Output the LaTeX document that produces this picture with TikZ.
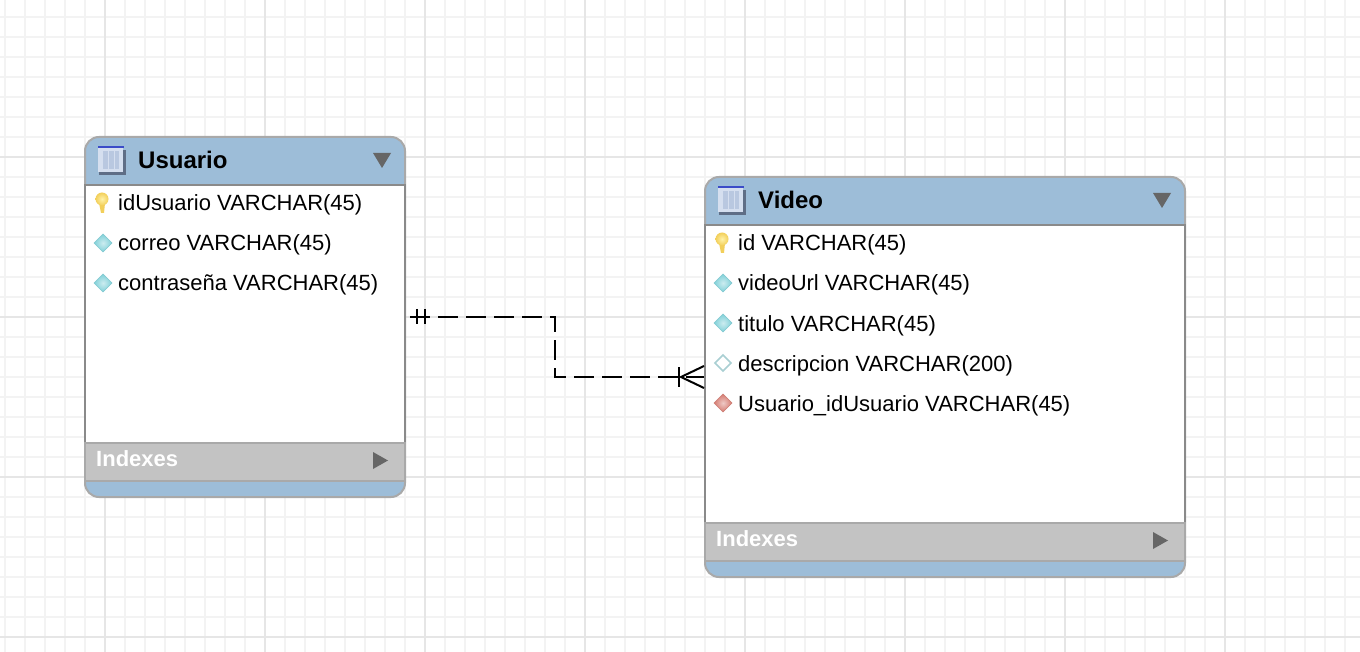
\documentclass[tikz,border=0pt]{standalone}
\usepackage{fontspec}
\setmainfont{Liberation Sans}
\definecolor{headblue}{HTML}{9DBDD8}
\definecolor{frameline}{HTML}{A9A9A9}
\definecolor{bodyline}{HTML}{8A8A8A}
\definecolor{indexgrey}{HTML}{C3C3C3}
\definecolor{markgrey}{HTML}{666666}
\definecolor{gridminor}{HTML}{F3F3F3}
\definecolor{gridmajor}{HTML}{E6E6E6}
\definecolor{keygold}{HTML}{F2CF5A}
\definecolor{keylight}{HTML}{FFF2A8}
\definecolor{colcyan}{HTML}{7FD0D8}
\definecolor{colpale}{HTML}{A9CFD2}
\definecolor{colred}{HTML}{D57A70}
\definecolor{iconblue}{HTML}{3B4CC8}
\definecolor{iconshade}{HTML}{5F6E86}
\definecolor{iconfill}{HTML}{D5DFEF}
\definecolor{iconcol}{HTML}{B9C8E0}
\tikzset{
	tablebox/.style={draw=frameline, line width=2pt, fill=headblue, rounded corners=14pt, minimum width=320pt, inner sep=0pt},
	bodybox/.style={draw=bodyline, line width=1.6pt, fill=white, minimum width=320pt, inner sep=0pt},
	indexbox/.style={draw=frameline, line width=2pt, fill=indexgrey, minimum width=320pt, minimum height=38pt, inner sep=0pt},
	headtext/.style={anchor=west, inner sep=0pt, font=\fontsize{24}{28}\selectfont\bfseries},
	indextext/.style={anchor=west, inner sep=0pt, text=white, font=\fontsize{22}{26}\selectfont\bfseries},
	coltext/.style={anchor=west, inner sep=0pt, text height=21pt, text depth=5pt, font=\fontsize{22}{26}\selectfont},
	relline/.style={line width=2pt, black},
	coldiamond/.pic={
		\shade[inner color=#1!40!white, outer color=#1, draw=#1!90!gray, line width=.6pt]
			(-9,0) -- (0,-9) -- (9,0) -- (0,9) -- cycle;
	},
	emptydiamond/.pic={
		\fill[white, draw=#1, line width=1.6pt]
			(-8,0) -- (0,-8) -- (8,0) -- (0,8) -- cycle;
	},
	keymark/.pic={
		\fill[keygold] (-3,0) -- (3,0) -- (2,10) -- (-1,10) -- cycle;
		\shade[inner color=keylight, outer color=keygold] (0,-4) ellipse (6.5pt and 6.5pt);
	},
	tablemark/.pic={
		\fill[iconshade] (-12,-10) rectangle (15,15);
		\fill[iconfill] (-13,-14) rectangle (12,12);
		\fill[iconcol] (-8,-9) rectangle (8,9);
		\fill[iconblue] (-13,-14) rectangle (13,-11.5);
		\foreach \xpos in {-3,3}
			\draw[iconfill, line width=1pt] (\xpos,-9) -- (\xpos,9);
	}
}
\begin{document}
\begin{tikzpicture}[x=1pt, y=-1pt]
	\useasboundingbox (0,0) rectangle (1360,652);
	\fill[white] (0,0) rectangle (1360,652);
	% grid
	\foreach \xpos in {5,25,...,1345}
		\draw[gridminor, line width=2pt] (\xpos,0) -- (\xpos,652);
	\foreach \ypos in {17,37,...,637}
		\draw[gridminor, line width=2pt] (0,\ypos) -- (1360,\ypos);
	\foreach \xpos in {105,265,...,1225}
		\draw[gridmajor, line width=2pt] (\xpos,0) -- (\xpos,652);
	\foreach \ypos in {157,317,477,637}
		\draw[gridmajor, line width=2pt] (0,\ypos) -- (1360,\ypos);

	% Usuario
	\node[tablebox, minimum height=360pt] (usuarioFrame) at (245,317) {};
	\node[bodybox, minimum height=258pt] (usuarioBody) at (245,314) {};
	\node[indexbox] (usuarioIndex) at (245,462) {};
	\node[headtext] (usuarioHead) at (138,160) {Usuario};
	\node[indextext] (usuarioIndexText) at (96,459) {Indexes};
	\pic at (111,160) {tablemark};
	\fill[markgrey] (373,153) -- (391,153) -- (382,168) -- cycle;
	\fill[markgrey] (373,452) -- (388,460.5) -- (373,469) -- cycle;
	\pic at (102,203) {keymark};
	\pic at (103,243) {coldiamond=colcyan};
	\pic at (103,283) {coldiamond=colcyan};
	\node[coltext] (usuarioId) at (118,203) {idUsuario VARCHAR(45)};
	\node[coltext] (usuarioCorreo) at (118,243) {correo VARCHAR(45)};
	\node[coltext] (usuarioPass) at (118,283) {contraseña VARCHAR(45)};

	% Video
	\node[tablebox, minimum width=480pt, minimum height=400pt] (videoFrame) at (945,377) {};
	\node[bodybox, minimum width=480pt, minimum height=298pt] (videoBody) at (945,374) {};
	\node[indexbox, minimum width=480pt] (videoIndex) at (945,542) {};
	\node[headtext] (videoHead) at (758,200) {Video};
	\node[indextext] (videoIndexText) at (716,539) {Indexes};
	\pic at (731,200) {tablemark};
	\fill[markgrey] (1153,193) -- (1171,193) -- (1162,208) -- cycle;
	\fill[markgrey] (1153,532) -- (1168,540.5) -- (1153,549) -- cycle;
	\pic at (722,243) {keymark};
	\pic at (723,283) {coldiamond=colcyan};
	\pic at (723,323) {coldiamond=colcyan};
	\pic at (723,363) {emptydiamond=colpale};
	\pic at (723,403) {coldiamond=colred};
	\node[coltext] (videoId) at (738,243) {id VARCHAR(45)};
	\node[coltext] (videoUrl) at (738,283) {videoUrl VARCHAR(45)};
	\node[coltext] (videoTitulo) at (738,323) {titulo VARCHAR(45)};
	\node[coltext] (videoDesc) at (738,363) {descripcion VARCHAR(200)};
	\node[coltext] (videoFk) at (738,403) {Usuario\_idUsuario VARCHAR(45)};

	% relation
	\coordinate (bendA) at (555,317);
	\coordinate (bendB) at (555,377);
	\draw[relline, dash pattern=on 20pt off 8pt, shorten <=4pt] (usuarioFrame.east) -- (bendA) -- (bendB) -- (videoFrame.west);
	\draw[relline] ([shift={(11,-8)}]usuarioFrame.east) -- ([shift={(11,7)}]usuarioFrame.east);
	\draw[relline] ([shift={(19,-8)}]usuarioFrame.east) -- ([shift={(19,7)}]usuarioFrame.east);
	\draw[relline] ([shift={(-25,-10)}]videoFrame.west) -- ([shift={(-25,10)}]videoFrame.west);
	\draw[relline] ([shift={(0,-11)}]videoFrame.west) -- ([shift={(-23,0)}]videoFrame.west) -- ([shift={(0,11)}]videoFrame.west);
\end{tikzpicture}
\end{document}
